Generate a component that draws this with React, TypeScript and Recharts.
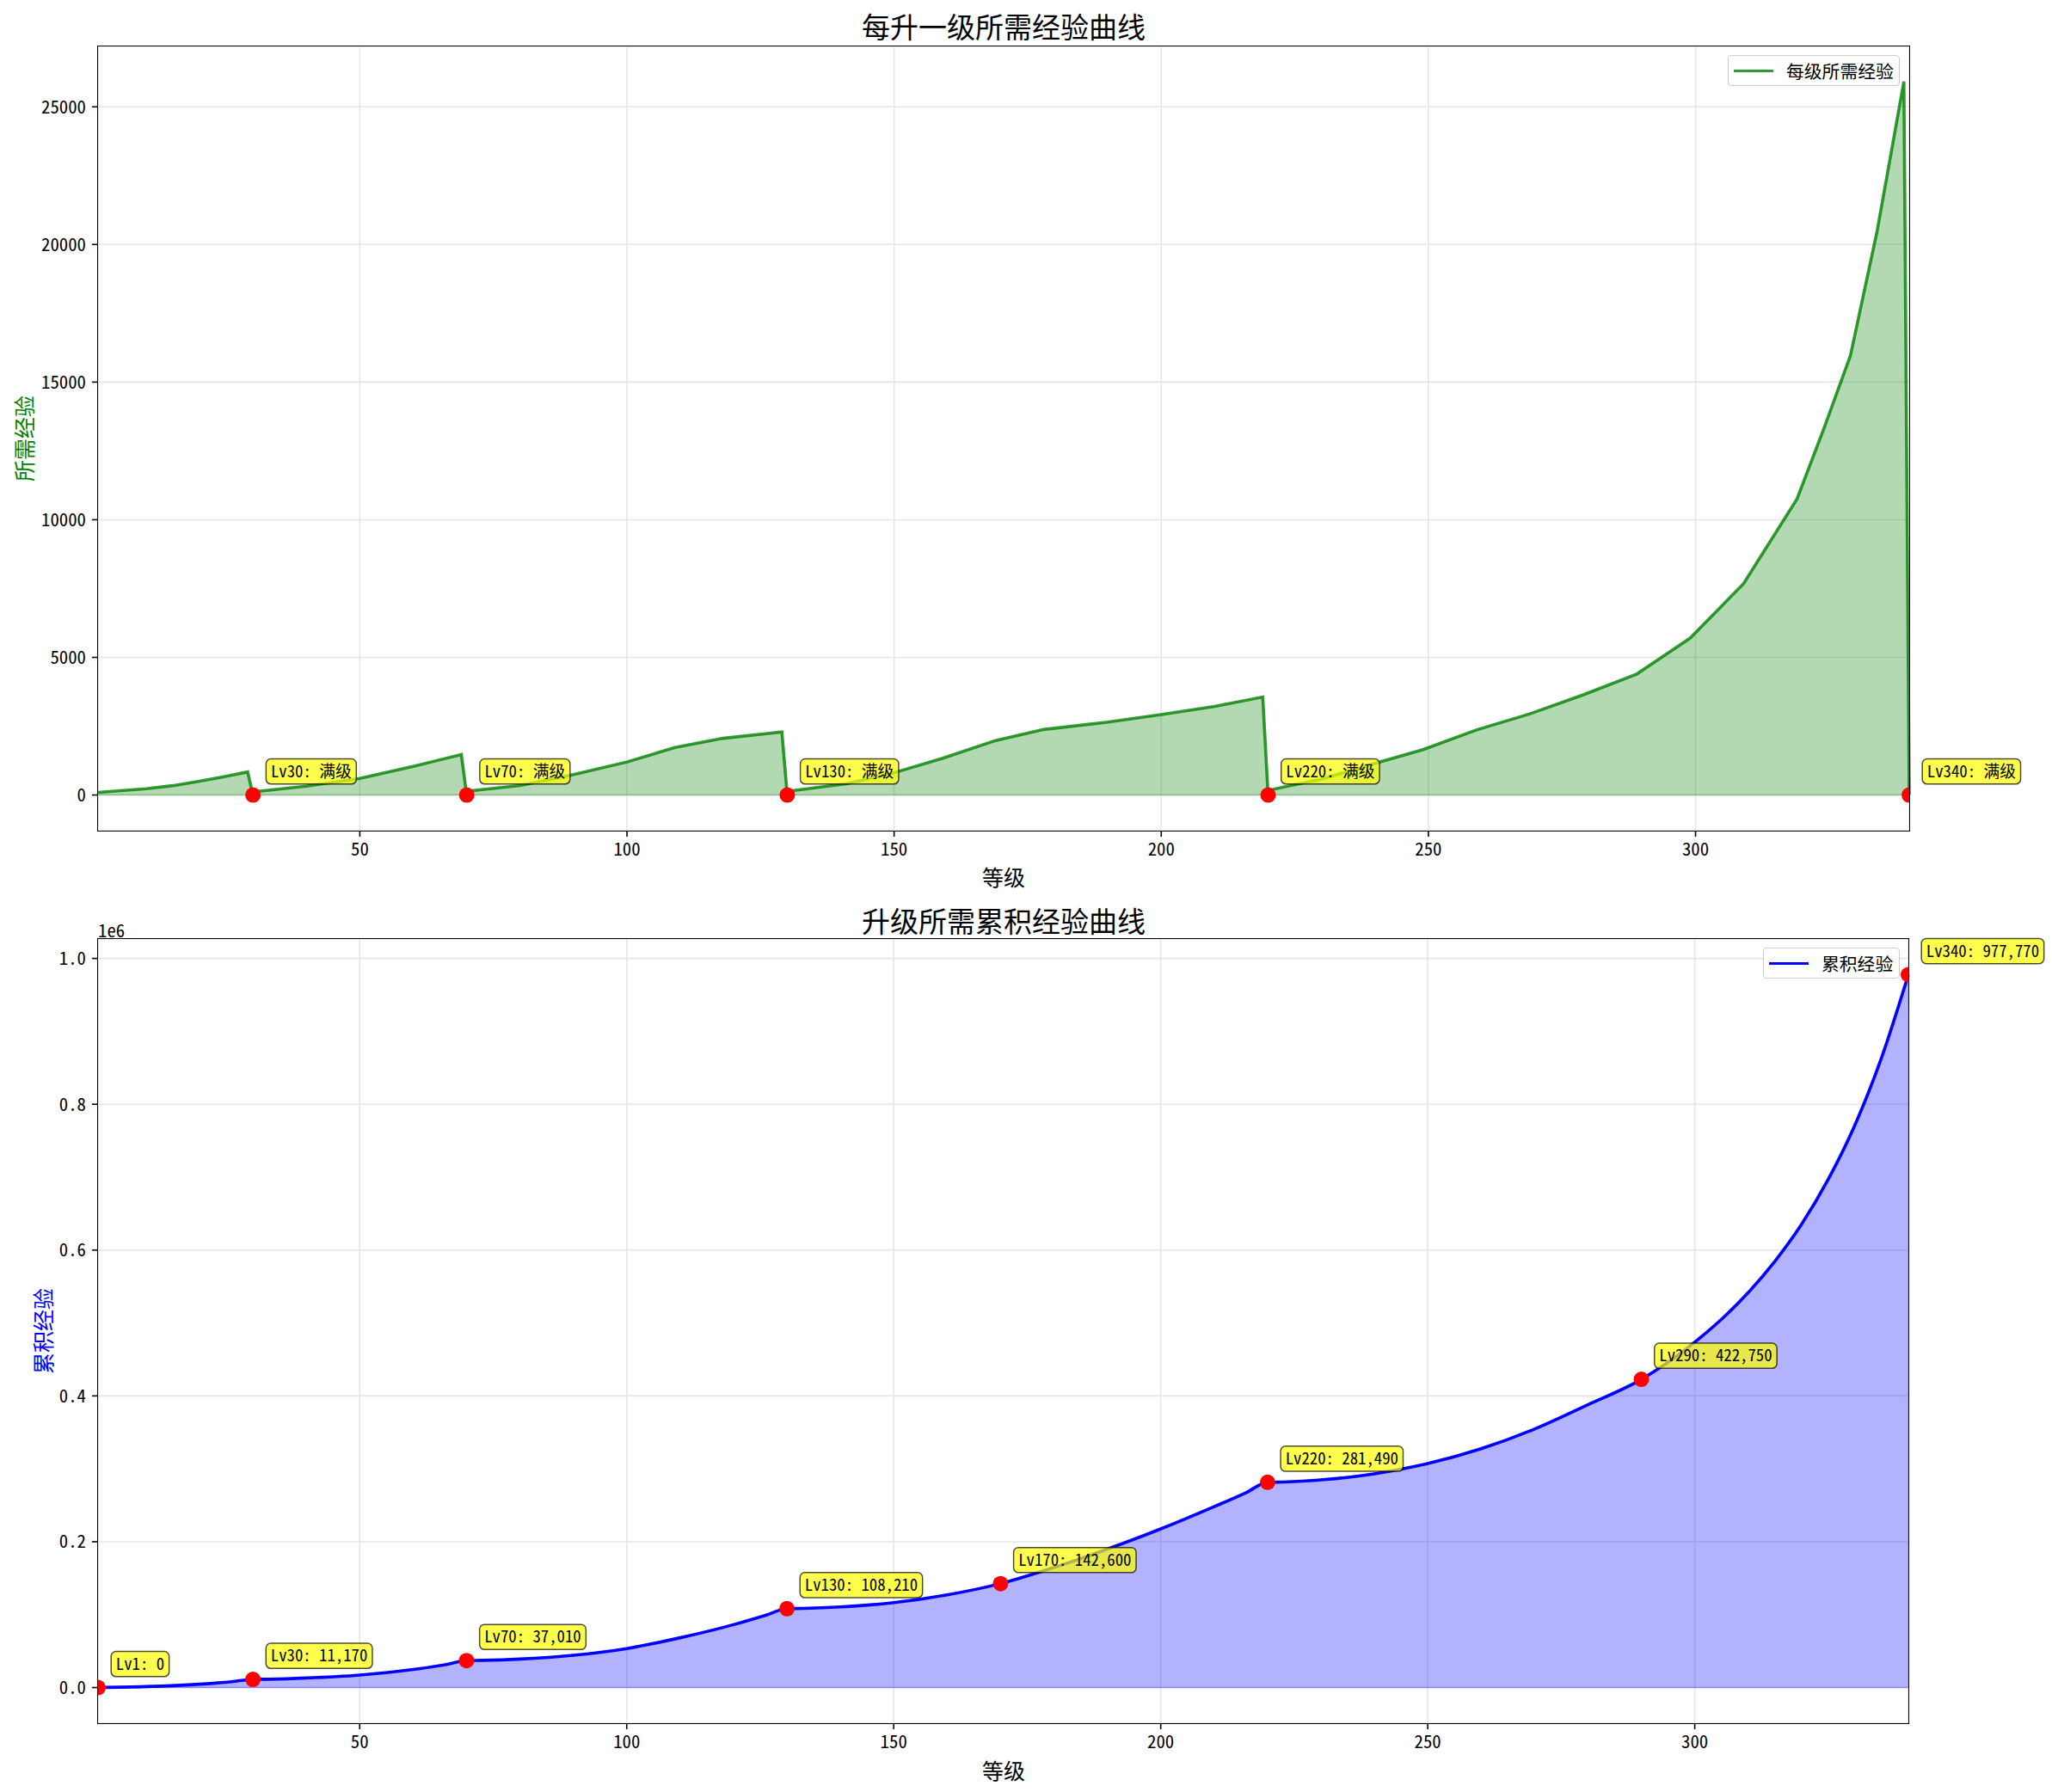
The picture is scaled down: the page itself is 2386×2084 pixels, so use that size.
import React from 'react';
import { ComposedChart, Area, Scatter, XAxis, YAxis, CartesianGrid, ReferenceLine } from 'recharts';

// ---------------- data ----------------
// Per-level experience: vertices of the polyline (level -> exp needed)
const perLevelLevels = [1, 10, 15, 20, 25, 29, 30, 31, 40, 50, 60, 69, 70, 71, 80, 90, 100, 109, 118, 129, 130, 131, 141, 150, 159, 169, 178, 190, 200, 210, 219, 220, 221, 230, 240, 249, 259, 269, 279, 289, 299, 309, 319, 324, 329, 334, 339, 340];
const perLevelExp = [95, 230, 340, 500, 680, 840, 0, 135, 320, 600, 1040, 1470, 0, 156, 345, 740, 1200, 1730, 2060, 2290, 0, 156, 410, 810, 1330, 1980, 2380, 2650, 2920, 3220, 3560, 0, 210, 580, 1150, 1650, 2365, 2950, 3640, 4395, 5700, 7680, 10760, 13300, 15970, 20500, 25920, 0];

// Cumulative experience samples
const cumLevels = [1, 10, 20, 26, 30, 33, 40, 50, 60, 66, 70, 73, 80, 90, 100, 110, 120, 126, 130, 133, 140, 150, 160, 170, 180, 190, 200, 210, 216, 220, 223, 230, 240, 250, 260, 270, 280, 290, 300, 305, 310, 315, 320, 325, 330, 335, 340];
const cumExp = [0, 1350, 4650, 8070, 11170, 11460, 13120, 17200, 24800, 31400, 37010, 37350, 39150, 44370, 53500, 68300, 86300, 99180, 108210, 108540, 110580, 116430, 127130, 142600, 164700, 189950, 217650, 248200, 267450, 281490, 281950, 284865, 293215, 307215, 327540, 354590, 388040, 422750, 473750, 505050, 541650, 584640, 635400, 697080, 771650, 864420, 977770];

// Marked levels
const topMarkLevels = [30, 70, 130, 220, 340];
const topMarkLabels = ['Lv30: 满级', 'Lv70: 满级', 'Lv130: 满级', 'Lv220: 满级', 'Lv340: 满级'];
const bottomMarkLevels = [1, 30, 70, 130, 170, 220, 290, 340];
const bottomMarkValues = [0, 11170, 37010, 108210, 142600, 281490, 422750, 977770];
const bottomMarkLabels = ['Lv1: 0', 'Lv30: 11,170', 'Lv70: 37,010', 'Lv130: 108,210', 'Lv170: 142,600', 'Lv220: 281,490', 'Lv290: 422,750', 'Lv340: 977,770'];

// Axis ticks
const xTicks = [50, 100, 150, 200, 250, 300];
const topYTicks = [0, 5000, 10000, 15000, 20000, 25000];
const bottomYTicks = [0, 200000, 400000, 600000, 800000, 1000000];

// Text
const topTitle = '每升一级所需经验曲线';
const bottomTitle = '升级所需累积经验曲线';
const xLabel = '等级';
const topYLabel = '所需经验';
const bottomYLabel = '累积经验';
const topLegend = '每级所需经验';
const bottomLegend = '累积经验';

// ---------------- derived tables ----------------
const topSeries = perLevelLevels.map((l, i) => ({ level: l, value: perLevelExp[i] }));
const bottomSeries = cumLevels.map((l, i) => ({ level: l, value: cumExp[i] }));
const topMarks = topMarkLevels.map((l, i) => ({ level: l, value: 0, label: topMarkLabels[i] }));
const bottomMarks = bottomMarkLevels.map((l, i) => ({ level: l, value: bottomMarkValues[i], label: bottomMarkLabels[i] }));

// ---------------- layout ----------------
const W = 2386;
const H1 = 1042;
const H2 = 1042;
const FONT = "'Noto Sans Mono CJK SC', 'Noto Sans CJK SC', 'DejaVu Sans', sans-serif";
const TICK_FS = 20.8;
const PLOT_L = 114;
const TOP_PLOT = { left: 114, right: 2220, top: 54, bottom: 966 };
const BOT_PLOT = { left: 114, right: 2219, top: 50, bottom: 962 }; // in bottom svg coords
const BOT_OFFSET = 1042;

function makeMark(clipBase: string, plot: { left: number; right: number; top: number; bottom: number }) {
  return (props: any) => {
    const { cx, cy, payload } = props;
    if (cx == null || cy == null) return <g />;
    const label: string = payload.label;
    const fs = 18.75;
    let w = 0;
    for (const ch of label) w += ch.charCodeAt(0) > 255 ? fs : fs / 2;
    const pad = 5.6;
    const tx = cx + 20.8;
    const ty = cy - 20.8;
    const id = `${clipBase}-${payload.level}`;
    return (
      <g>
        <defs>
          <clipPath id={id}>
            <rect x={plot.left} y={plot.top} width={plot.right - plot.left} height={plot.bottom - plot.top} />
          </clipPath>
        </defs>
        <circle cx={cx} cy={cy} r={9} fill="#ff0000" clipPath={`url(#${id})`} />
        <rect x={tx - pad} y={ty - 15.6 - pad} width={w + 2 * pad} height={15.6 + 2.4 + 2 * pad} rx={pad} ry={pad}
          fill="#ffff00" fillOpacity={0.7} stroke="#000" strokeOpacity={0.7} strokeWidth={1.5} />
        <text x={tx} y={ty} fontSize={fs} fontFamily={FONT} fill="#000" textLength={w} lengthAdjust="spacingAndGlyphs">{label}</text>
      </g>
    );
  };
}

const tickStyle = { fontSize: TICK_FS, fill: '#000', fontFamily: FONT };
const tickLine = { stroke: '#000', strokeWidth: 1.6 };

function Text(props: { x: number; y: number; size: number; color?: string; rotate?: boolean; children: React.ReactNode; anchor?: 'center' | 'left' }) {
  const { x, y, size, color = '#000', rotate, children, anchor = 'center' } = props;
  const tf = anchor === 'center' ? `translate(-50%, -50%)${rotate ? ' rotate(-90deg)' : ''}` : 'translate(0, -50%)';
  return (
    <div style={{ position: 'absolute', left: x, top: y, transform: tf, fontSize: size, color, fontFamily: FONT, whiteSpace: 'nowrap', lineHeight: 1 }}>
      {children}
    </div>
  );
}

function Frame(props: { left: number; top: number; right: number; bottom: number }) {
  const { left, top, right, bottom } = props;
  return (
    <div style={{ position: 'absolute', left: left - 0.8, top: top - 0.8, width: right - left, height: bottom - top, border: '1.6px solid #000', pointerEvents: 'none' }} />
  );
}

function LegendBox(props: { left: number; top: number; width: number; color: string; label: string }) {
  const { left, top, width, color, label } = props;
  return (
    <div style={{ position: 'absolute', left, top, width, height: 36, boxSizing: 'border-box', border: '1.5px solid #cccccc', borderRadius: 4, background: 'rgba(255,255,255,0.8)' }}>
      <div style={{ position: 'absolute', left: 6, top: 15.5, width: 46, height: 3.5, background: color }} />
      <div style={{ position: 'absolute', left: 67, top: 7, fontSize: TICK_FS, lineHeight: 1, fontFamily: FONT, whiteSpace: 'nowrap', color: '#000' }}>{label}</div>
    </div>
  );
}

export default function App() {
  return (
    <div style={{ position: 'absolute', left: 0, top: 0, width: W, height: 2084, background: '#fff', overflow: 'hidden' }}>
      {/* ---------- top chart ---------- */}
      <div style={{ position: 'absolute', left: 0, top: 0 }}>
        <ComposedChart width={W} height={H1} margin={{ top: 54, right: 166, bottom: 16, left: 0 }}>
          <CartesianGrid stroke="#e6e6e6" strokeWidth={1.6} />
          <XAxis dataKey="level" type="number" domain={[1, 340]} ticks={xTicks} height={60}
            tick={tickStyle} tickLine={tickLine} tickSize={7} tickMargin={7} axisLine={false} interval={0} />
          <YAxis type="number" domain={[-1295, 27195]} ticks={topYTicks} width={PLOT_L}
            tick={tickStyle} tickLine={tickLine} tickSize={7} tickMargin={7} axisLine={false} interval={0} />
          <Area data={topSeries} dataKey="value" type="linear" baseValue={0}
            stroke="#008000" strokeOpacity={0.8} strokeWidth={3.6} fill="#008000" fillOpacity={0.3}
            isAnimationActive={false} dot={false} activeDot={false} />
          <ReferenceLine y={0} stroke="#008000" strokeOpacity={0.3} strokeWidth={1.5} />
          <Scatter data={topMarks} dataKey="value" shape={makeMark('clipTop', TOP_PLOT)} isAnimationActive={false} />
        </ComposedChart>
      </div>

      {/* ---------- bottom chart ---------- */}
      <div style={{ position: 'absolute', left: 0, top: BOT_OFFSET }}>
        <ComposedChart width={W} height={H2} margin={{ top: 50, right: 167, bottom: 20, left: 0 }}>
          <CartesianGrid stroke="#e6e6e6" strokeWidth={1.6} />
          <XAxis dataKey="level" type="number" domain={[1, 340]} ticks={xTicks} height={60}
            tick={tickStyle} tickLine={tickLine} tickSize={7} tickMargin={7} axisLine={false} interval={0} />
          <YAxis type="number" domain={[-48888, 1026658]} ticks={bottomYTicks} width={PLOT_L}
            tickFormatter={(v: number) => (v / 1e6).toFixed(1)}
            tick={tickStyle} tickLine={tickLine} tickSize={7} tickMargin={7} axisLine={false} interval={0} />
          <Area data={bottomSeries} dataKey="value" type="monotone" baseValue={0}
            stroke="#0000ff" strokeWidth={3.6} fill="#0000ff" fillOpacity={0.3}
            isAnimationActive={false} dot={false} activeDot={false} />
          <ReferenceLine y={0} stroke="#0000ff" strokeOpacity={0.3} strokeWidth={1.5} />
          <Scatter data={bottomMarks} dataKey="value" shape={makeMark('clipBot', BOT_PLOT)} isAnimationActive={false} />
        </ComposedChart>
      </div>

      {/* frames (spines) */}
      <Frame left={TOP_PLOT.left} top={TOP_PLOT.top} right={TOP_PLOT.right} bottom={TOP_PLOT.bottom} />
      <Frame left={BOT_PLOT.left} top={BOT_PLOT.top + BOT_OFFSET} right={BOT_PLOT.right} bottom={BOT_PLOT.bottom + BOT_OFFSET} />

      {/* titles and labels */}
      <Text x={1167} y={30} size={33}>{topTitle}</Text>
      <Text x={1167} y={1070} size={33}>{bottomTitle}</Text>
      <Text x={1167} y={1019} size={25}>{xLabel}</Text>
      <Text x={1167} y={2058} size={25}>{xLabel}</Text>
      <Text x={27} y={510} size={25} color="#008000" rotate>{topYLabel}</Text>
      <Text x={49} y={1548} size={25} color="#0000ff" rotate>{bottomYLabel}</Text>
      <Text x={114} y={1081} size={TICK_FS} anchor="left">1e6</Text>

      {/* legends */}
      <LegendBox left={2009} top={64} width={200} color="#339933" label={topLegend} />
      <LegendBox left={2050} top={1102} width={159} color="#0000ff" label={bottomLegend} />
    </div>
  );
}
